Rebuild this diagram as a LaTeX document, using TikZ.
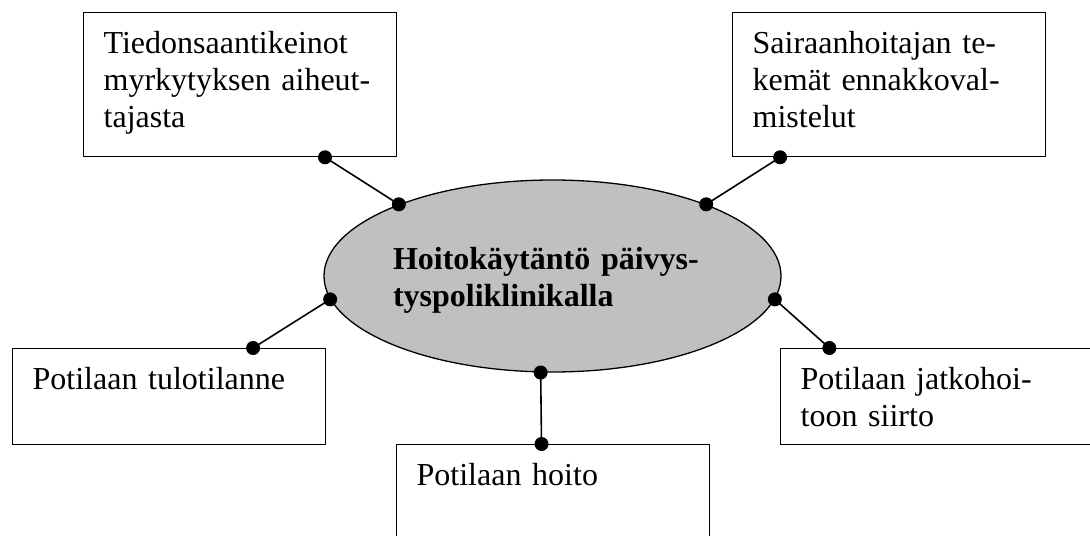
\documentclass[tikz,border=0pt]{standalone}
\usepackage{fontspec}
\setmainfont{Liberation Serif}
\usetikzlibrary{calc,shapes.geometric}
\definecolor{hubgray}{RGB}{192,192,192}
\tikzset{
  topic/.style={rectangle, draw, line width=0.65pt, anchor=north west, align=left,
                text width=136.5pt, inner xsep=10pt, inner ysep=0pt, text height=20.5pt,
                font=\fontsize{16pt}{18.5pt}\selectfont},
  tallbox/.style={topic, text depth=51.5pt},
  shortbox/.style={topic, text depth=27.5pt},
  centre/.style={ellipse, draw, line width=0.65pt, fill=hubgray, minimum width=228.5pt,
                 minimum height=96pt, inner sep=0pt, text width=159.5pt, align=left,
                 text height=15pt, text depth=22pt,
                 font=\fontsize{16pt}{18.5pt}\selectfont\bfseries},
  link/.style={line width=0.8pt},
  dot/.style={circle, fill=black, inner sep=0pt, minimum size=7pt},
}
\begin{document}
\begin{tikzpicture}[x=0.5pt, y=-0.5pt]
\clip (0,0) rectangle (1090,535);
\node[centre] (hub) at (552.5,276) {Hoitokäytäntö päivys-\\tyspoliklinikalla};
\node[tallbox] (info) at (83,12) {Tiedonsaantikeinot\\myrkytyksen aiheut-\\tajasta};
\node[tallbox] (prep) at (732,12) {Sairaanhoitajan te-\\kemät ennakkoval-\\mistelut};
\node[shortbox] (arrival) at (12,348) {Potilaan tulotilanne};
\node[shortbox] (transfer) at (780,348) {Potilaan jatkohoi-\\toon siirto};
\node[tallbox] (care) at (396,444) {Potilaan hoito};
% connectors with dotted ends
\draw[link] (hub.155) node[dot]{} -- ($(info.south west)!0.770!(info.south east)$) node[dot]{};
\draw[link] (hub.25) node[dot]{} -- ($(prep.south west)!0.153!(prep.south east)$) node[dot]{};
\draw[link] (hub.186) node[dot]{} -- ($(arrival.north west)!0.767!(arrival.north east)$) node[dot]{};
\draw[link] (hub.354) node[dot]{} -- ($(transfer.north west)!0.157!(transfer.north east)$) node[dot]{};
\draw[link] (hub.263) node[dot]{} -- ($(care.north west)!0.463!(care.north east)$) node[dot]{};
\end{tikzpicture}
\end{document}
